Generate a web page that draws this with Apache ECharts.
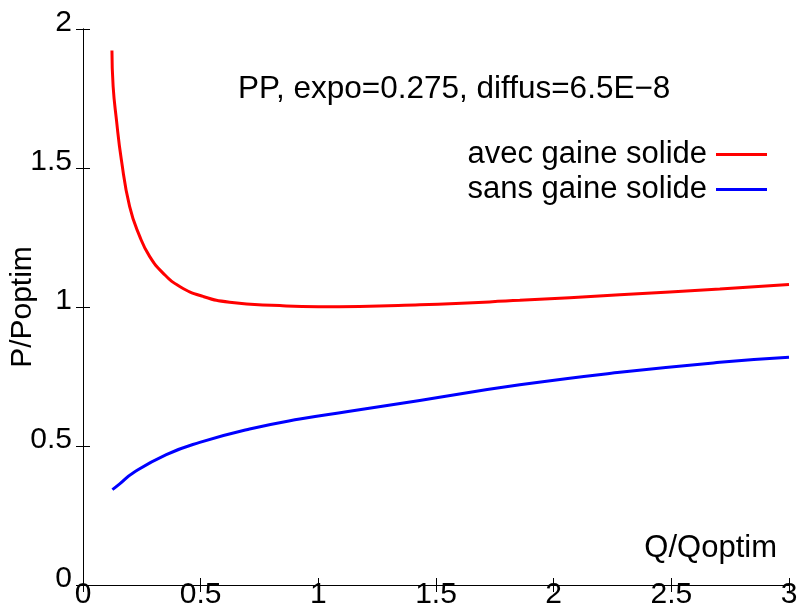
<!DOCTYPE html>
<html><head><meta charset="utf-8">
<script src="https://cdn.jsdelivr.net/npm/echarts@6/dist/echarts.min.js"></script>
<style>html,body{margin:0;padding:0;background:#fff}#c{width:800px;height:613px}</style>
</head><body><div id="c"></div>
<script>
const titleText = 'PP, expo=0.275, diffus=6.5E\u22128';
const xAxisTitle = 'Q/Qoptim';
const yAxisTitle = 'P/Poptim';
const seriesNames = ['avec gaine solide', 'sans gaine solide'];
const xTicks = [0, 0.5, 1, 1.5, 2, 2.5, 3];
const yTicks = [0, 0.5, 1, 1.5, 2];

const redX = [0.123, 0.128, 0.142, 0.163, 0.198, 0.241, 0.283, 0.340, 0.411, 0.510, 0.623, 0.836, 1.0, 1.431, 1.856, 2.281, 2.706, 3.0];
const redY = [1.923, 1.794, 1.674, 1.530, 1.362, 1.254, 1.182, 1.122, 1.074, 1.038, 1.017, 1.005, 1.001, 1.008, 1.024, 1.044, 1.065, 1.081];
const blueX = [0.125, 0.156, 0.2125, 0.354, 0.496, 0.708, 0.921, 1.126, 1.431, 1.856, 2.281, 2.706, 3.0];
const blueY = [0.343, 0.364, 0.403, 0.469, 0.513, 0.561, 0.597, 0.624, 0.664, 0.720, 0.765, 0.801, 0.819];

const FONT = 'Liberation Sans, Arial, Helvetica, sans-serif';
const zip = (xs, ys) => xs.map((x, i) => [x, ys[i]]);
const axisLine = {show: true, lineStyle: {color: '#000', width: 1}};
const tick = {show: true, inside: true, length: 7, lineStyle: {color: '#000', width: 1}};

const chart = echarts.init(document.getElementById('c'), null, {renderer: 'canvas'});
chart.setOption({
  animation: false,
  backgroundColor: '#fff',
  textStyle: {fontFamily: FONT},
  title: {
    text: titleText, left: 238, top: 73, padding: 0,
    textStyle: {fontFamily: FONT, fontSize: 31.5, fontWeight: 'normal', color: '#000'}
  },
  legend: {
    orient: 'vertical', right: 33, top: 137, padding: 0, align: 'right',
    itemWidth: 51, itemHeight: 3, itemGap: 0, icon: 'rect',
    textStyle: {fontFamily: FONT, fontSize: 31, lineHeight: 35, color: '#000', padding: [0, 4, 0, 0]},
    data: seriesNames
  },
  grid: {left: 83, right: 11, top: 29, bottom: 28, containLabel: false, outerBoundsMode: 'none'},
  xAxis: [{
    type: 'value', min: xTicks[0], max: xTicks[xTicks.length - 1], interval: 0.5,
    axisLine: axisLine, axisTick: tick, splitLine: {show: false},
    axisLabel: {fontFamily: FONT, fontSize: 30, color: '#000', margin: -5,
      formatter: v => String(v), showMinLabel: true, showMaxLabel: true}
  }, {
    type: 'value', position: 'top', min: xTicks[0], max: xTicks[xTicks.length - 1], interval: 0.5,
    axisLine: axisLine, axisTick: tick, axisLabel: {show: false}, splitLine: {show: false}
  }],
  yAxis: [{
    type: 'value', min: yTicks[0], max: yTicks[yTicks.length - 1], interval: 0.5,
    axisLine: axisLine, axisTick: tick, splitLine: {show: false},
    axisLabel: {fontFamily: FONT, fontSize: 30, color: '#000', margin: 11,
      verticalAlign: 'bottom', lineHeight: 12, formatter: v => String(v)},
    name: yAxisTitle, nameLocation: 'middle', nameRotate: 90, nameGap: 45, nameMoveOverlap: false,
    nameTextStyle: {fontFamily: FONT, fontSize: 30, color: '#000'}
  }, {
    type: 'value', position: 'right', min: yTicks[0], max: yTicks[yTicks.length - 1], interval: 0.5,
    axisLine: axisLine, axisTick: tick, axisLabel: {show: false}, splitLine: {show: false}
  }],
  graphic: [{
    type: 'text', right: 23, top: 533,
    style: {text: xAxisTitle, fontFamily: FONT, fontSize: 31, fill: '#000'}
  }],
  series: [{
    name: seriesNames[0], type: 'line', data: zip(redX, redY), smooth: true,
    showSymbol: false, symbol: 'none', lineStyle: {color: '#ff0000', width: 3}, itemStyle: {color: '#ff0000'}
  }, {
    name: seriesNames[1], type: 'line', data: zip(blueX, blueY), smooth: true,
    showSymbol: false, symbol: 'none', lineStyle: {color: '#0000ff', width: 3}, itemStyle: {color: '#0000ff'}
  }]
});
</script></body></html>
